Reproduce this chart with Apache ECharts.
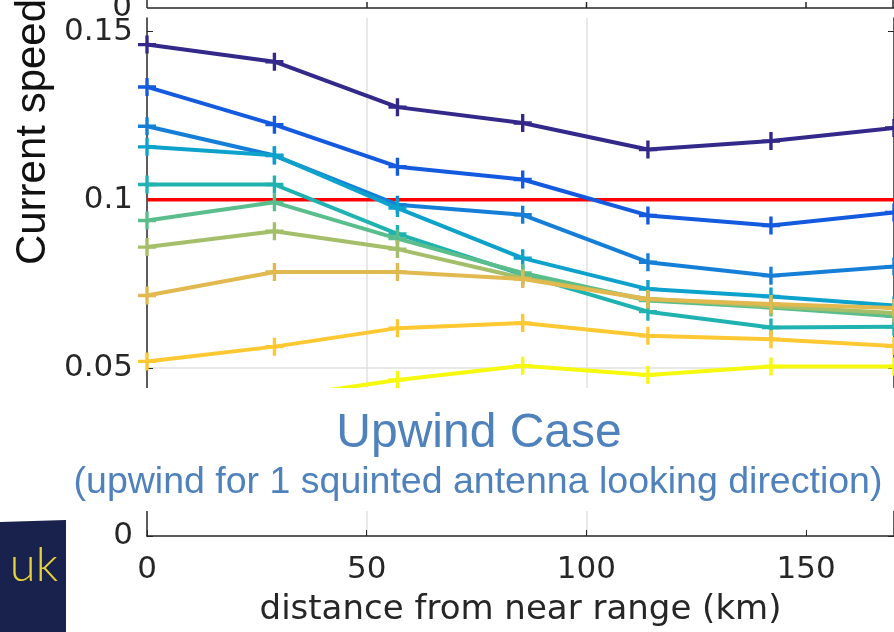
<!DOCTYPE html>
<html>
<head>
<meta charset="utf-8">
<script src="https://cdn.jsdelivr.net/npm/echarts@6/dist/echarts.min.js"></script>
<style>
  html, body { margin: 0; padding: 0; background: #ffffff; }
  #chart { width: 894px; height: 632px; }
</style>
</head>
<body>
<div id="chart"></div>
<script>
// Distance from near range (km) of each sample
const distanceKm = [0, 29, 57, 85.5, 114, 142, 170];

// Current speed profiles (m/s), one per line
const speed1 = [0.1461, 0.1410, 0.1275, 0.1228, 0.1149, 0.1174, 0.1213];
const speed2 = [0.1335, 0.1223, 0.1098, 0.1060, 0.0953, 0.0923, 0.0962];
const speed3 = [0.1218, 0.1131, 0.0985, 0.0955, 0.0814, 0.0774, 0.0801];
const speed4 = [0.1157, 0.1132, 0.0975, 0.0826, 0.0734, 0.0712, 0.0685];
const speed5 = [0.1045, 0.1045, 0.0898, 0.0777, 0.0667, 0.0620, 0.0622];
const speed6 = [0.0938, 0.0992, 0.0884, 0.0782, 0.0700, 0.0679, 0.0653];
const speed7 = [0.0859, 0.0906, 0.0853, 0.0767, 0.0705, 0.0683, 0.0663];
const speed8 = [0.0715, 0.0785, 0.0785, 0.0764, 0.0704, 0.0690, 0.0678];
const speed9 = [0.0519, 0.0563, 0.0618, 0.0633, 0.0595, 0.0585, 0.0565];
const speed10 = [0.0360, 0.0410, 0.0464, 0.0506, 0.0479, 0.0504, 0.0504];
const profiles = [speed1, speed2, speed3, speed4, speed5, speed6, speed7, speed8, speed9, speed10];
const profileColors = ['#33298a', '#145ade', '#157fd8', '#0ca2cc', '#1fb2b0',
                       '#5abd8c', '#a5be69', '#e1b94f', '#fdc832', '#f6f90e'];

// Reference speed
const referenceSpeed = 0.1;

// Axis ticks
const xTicks = [0, 50, 100, 150];
const yTicks = [0, 0.05, 0.1, 0.15];

const axisColor = '#262626';
const gridColor = '#e0e0e0';
const tickFont = 'DejaVu Sans';

// Plus-shaped marker
const plusSymbol = 'path://M6.5,0H9.5V6.5H16V9.5H9.5V16H6.5V9.5H0V6.5H6.5Z';

const chart = echarts.init(document.getElementById('chart'), null, { renderer: 'canvas' });

const series = [{
  type: 'line',
  data: distanceKm.map(d => [d, referenceSpeed]),
  symbol: 'none',
  lineStyle: { color: '#ff0000', width: 3.5 },
  silent: true,
  z: 2
}];
profiles.forEach((vals, i) => {
  series.push({
    type: 'line',
    data: distanceKm.map((d, j) => [d, vals[j]]),
    symbol: plusSymbol,
    symbolSize: 18,
    showAllSymbol: true,
    itemStyle: { color: profileColors[i], borderWidth: 0 },
    lineStyle: { color: profileColors[i], width: 4 },
    silent: true,
    z: 3 + i
  });
});

const option = {
  animation: false,
  grid: { left: 147, top: 18, right: 0, bottom: 96, containLabel: false },
  xAxis: {
    type: 'value',
    min: 0,
    max: 170,
    interval: 50,
    name: 'distance from near range (km)',
    nameLocation: 'middle',
    nameGap: 57,
    nameTextStyle: { fontFamily: tickFont, fontSize: 34, color: axisColor },
    axisLine: { show: true, lineStyle: { color: axisColor, width: 1.5 } },
    axisTick: { show: true, inside: true, length: 6, lineStyle: { color: axisColor }, customValues: xTicks },
    axisLabel: { fontFamily: tickFont, fontSize: 31, color: axisColor, margin: 18, customValues: xTicks },
    splitLine: { show: true, showMinLine: false, showMaxLine: false, lineStyle: { color: gridColor, width: 1.5 } }
  },
  yAxis: [{
    type: 'value',
    min: 0,
    max: 0.154,
    interval: 0.05,
    axisLine: { show: true, lineStyle: { color: axisColor, width: 1.5 } },
    axisTick: { show: true, inside: true, length: 6, lineStyle: { color: axisColor }, customValues: yTicks },
    axisLabel: { fontFamily: tickFont, fontSize: 31, color: axisColor, margin: 14, customValues: yTicks },
    splitLine: { show: true, showMinLine: false, showMaxLine: false, lineStyle: { color: gridColor, width: 1.5 } }
  }, {
    type: 'value',
    position: 'right',
    min: 0,
    max: 0.154,
    interval: 0.05,
    axisLine: { show: true, onZero: false, lineStyle: { color: axisColor, width: 1.5 } },
    axisTick: { show: true, inside: true, length: 6, lineStyle: { color: axisColor }, customValues: yTicks },
    axisLabel: { show: false },
    splitLine: { show: false }
  }],
  series: series,
  graphic: [
    // Bottom edge of the panel above
    { type: 'line', z: 50, shape: { x1: 147, y1: 8, x2: 894, y2: 8 }, style: { stroke: axisColor, lineWidth: 1.5 } },
    { type: 'line', z: 50, shape: { x1: 147, y1: 0, x2: 147, y2: 8 }, style: { stroke: axisColor, lineWidth: 1.5 } },
    { type: 'line', z: 50, shape: { x1: 893, y1: 0, x2: 893, y2: 8 }, style: { stroke: axisColor, lineWidth: 1.5 } },
    { type: 'line', z: 50, shape: { x1: 367, y1: 2, x2: 367, y2: 8 }, style: { stroke: axisColor, lineWidth: 1.5 } },
    { type: 'line', z: 50, shape: { x1: 586.5, y1: 2, x2: 586.5, y2: 8 }, style: { stroke: axisColor, lineWidth: 1.5 } },
    { type: 'line', z: 50, shape: { x1: 806, y1: 2, x2: 806, y2: 8 }, style: { stroke: axisColor, lineWidth: 1.5 } },
    { type: 'text', z: 50, x: 132, y: 8, style: { text: '0', font: '31px "DejaVu Sans"', fill: axisColor, align: 'right', verticalAlign: 'middle' } },
    // Y axis title
    { type: 'text', z: 50, x: 33, y: 132, rotation: Math.PI / 2,
      style: { text: 'Current speed', font: '42px "Liberation Sans"', fill: '#111111', align: 'center', verticalAlign: 'middle' } },
    // Caption band
    { type: 'rect', z: 100, shape: { x: 0, y: 388, width: 894, height: 123 }, style: { fill: '#ffffff' } },
    { type: 'text', z: 101, x: 479, y: 434,
      style: { text: 'Upwind Case', font: '48px "Liberation Sans"', fill: '#4f81bd', align: 'center', verticalAlign: 'middle' } },
    { type: 'text', z: 101, x: 478, y: 483,
      style: { text: '(upwind for 1 squinted antenna looking direction)', font: '37.5px "Liberation Sans"', fill: '#4f81bd', align: 'center', verticalAlign: 'middle' } },
    // Corner badge
    { type: 'polygon', z: 100, shape: { points: [[0, 522], [66, 520], [66, 632], [0, 632]] }, style: { fill: '#19224c' } },
    { type: 'text', z: 101, x: 58, y: 566,
      style: { text: 'uk', font: '300 47px "Lato"', fill: '#e6d23a', align: 'right', verticalAlign: 'middle' } }
  ]
};

chart.setOption(option);
</script>
</body>
</html>
